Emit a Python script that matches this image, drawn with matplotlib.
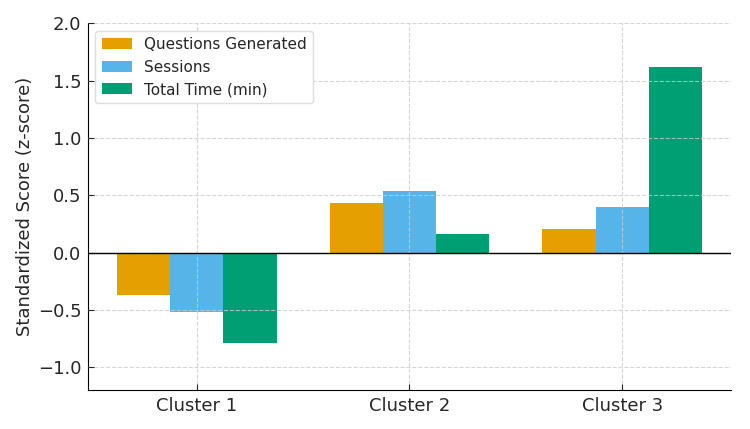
import numpy as np
from matplotlib import pyplot as plt

clusters = ["Cluster 1", "Cluster 2", "Cluster 3"]
series_names = ["Questions Generated", "Sessions", "Total Time (min)"]
questions = [-0.37, 0.43, 0.21]
sessions = [-0.52, 0.54, 0.40]
total_time = [-0.79, 0.16, 1.62]
colors = ["#E69F00", "#56B4E9", "#009E73"]

plt.rcParams["text.color"] = "#262626"
plt.rcParams["xtick.color"] = "#262626"
plt.rcParams["ytick.color"] = "#262626"

fig, ax = plt.subplots(figsize=(7.5, 4.29), dpi=100)
x = np.arange(len(clusters))
w = 0.25
for i, (vals, name) in enumerate(zip([questions, sessions, total_time], series_names)):
	ax.bar(x + (i - 1) * w, vals, w, label=name, color=colors[i])

ax.grid(True, linestyle="--", color="#cccccc", alpha=0.8, linewidth=0.8)
ax.set_axisbelow(False)
ax.axhline(0, color="black", linewidth=1, zorder=5)
ax.set_xticks(x)
ax.set_xticklabels(clusters, fontsize=13)
ax.set_ylim(-1.2, 2.0)
ax.set_yticks(np.arange(-1.0, 2.01, 0.5))
ax.tick_params(axis="both", direction="in", length=4, pad=5)
ax.tick_params(axis="y", labelsize=13, pad=4.5)
ax.set_ylabel("Standardized Score (z-score)", fontsize=13, color="#262626", labelpad=3)
for s in ["top", "right"]:
	ax.spines[s].set_visible(False)
ax.legend(loc="upper left", fontsize=11, framealpha=1, edgecolor="#dddddd")

plt.subplots_adjust(left=0.117, right=0.975, top=0.946, bottom=0.09)
plt.savefig("out.png")
